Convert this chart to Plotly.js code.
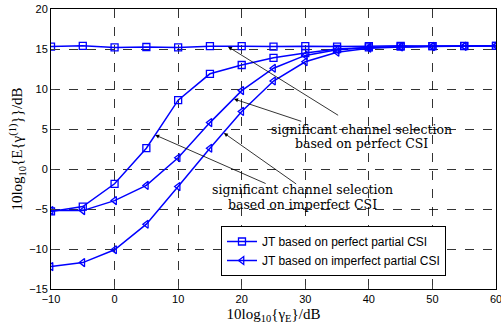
<!DOCTYPE html>
<html><head><meta charset="utf-8">
<script src="https://cdn.plot.ly/plotly-3.0.1.min.js"></script>
<style>body{margin:0;background:#fff}#c{width:501px;height:335px}</style>
</head><body><div id="c"></div>
<script>
const snr = [-10,-5,0,5,10,15,20,25,30,35,40,45,50,55,60];
const perfectTop = [15.3,15.4,15.2,15.25,15.2,15.35,15.35,15.3,15.35,15.3,15.35,15.4,15.35,15.4,15.4];
const perfectRise = [-5.3,-4.7,-1.85,2.6,8.6,11.9,13.0,13.9,14.5,15.0,15.2,15.3,15.35,15.35,15.4];
const imperfectUpper = [-5.2,-5.2,-3.95,-2.05,1.4,5.8,9.8,12.6,14.2,14.9,15.2,15.3,15.35,15.35,15.4];
const imperfectLower = [-12.2,-11.7,-10.1,-6.9,-2.2,2.6,7.2,11.0,13.4,14.6,15.1,15.25,15.3,15.35,15.4];
const legendNames = ['JT based on perfect partial CSI','JT based on imperfect partial CSI'];
const xTicks = [-10,0,10,20,30,40,50,60];
const yTicks = [-15,-10,-5,0,5,10,15,20];

const blue = '#0000ff';
function tr(y, sym, name, show){
  return {x: snr, y: y, type:'scatter', mode:'lines+markers', name: name, showlegend: show,
    line:{color:blue, width:1.5},
    marker:{symbol: sym, size:7, color:blue, line:{color:blue, width:1.3}}};
}
const data = [
  tr(perfectTop,'square-open',legendNames[0],true),
  tr(perfectRise,'square-open',legendNames[0],false),
  tr(imperfectUpper,'triangle-left-open',legendNames[1],true),
  tr(imperfectLower,'triangle-left-open',legendNames[1],false)
];
const serif = 'DejaVu Serif, serif';
const tserif = 'Liberation Serif, Times New Roman, serif';
function arrow(hx,hy,tx,ty){
  return {x:hx,y:hy,ax:tx,ay:ty,axref:'x',ayref:'y',xref:'x',yref:'y',text:'',showarrow:true,
    arrowhead:2,arrowsize:1,arrowwidth:0.8,arrowcolor:'#000'};
}
function label(x,y,t){
  return {x:x,y:y,xref:'x',yref:'y',showarrow:false,text:t,font:{family:serif,size:12.5,color:'#000'}};
}
const layout = {
  width:501, height:335,
  margin:{l:51,r:5,t:9,b:46},
  paper_bgcolor:'#fff', plot_bgcolor:'#fff',
  font:{family:'Liberation Sans, Arial, sans-serif', size:11, color:'#000'},
  xaxis:{range:[-10,60], tickmode:'array', tickvals:xTicks, ticklabeloverflow:'allow', showgrid:true, gridcolor:'#000', gridwidth:0.8, griddash:'dash',
    zeroline:false, showline:true, mirror:true, linecolor:'#000', linewidth:1, ticks:'inside', ticklen:4,
    tickfont:{size:11}, title:{text:'10log<sub>10</sub>{γ<sub>E</sub>}/dB', font:{family:tserif, size:15}, standoff:4}},
  yaxis:{range:[-15,20], tickmode:'array', tickvals:yTicks, ticklabeloverflow:'allow', showgrid:true, gridcolor:'#000', gridwidth:0.8, griddash:'dash',
    zeroline:false, showline:true, mirror:true, linecolor:'#000', linewidth:1, ticks:'inside', ticklen:4,
    tickfont:{size:11}, title:{text:'10log<sub>10</sub>{E{γ<sup>(1)</sup>}}/dB', font:{family:tserif, size:15}, standoff:2}},
  legend:{x:0.382, y:0.225, xanchor:'left', yanchor:'top', bgcolor:'#fff', bordercolor:'#000', borderwidth:1,
    font:{size:12}, tracegroupgap:0, itemwidth:30},
  annotations:[
    arrow(17.84,15.29,35.4,6.6),
    arrow(18.8,8.75,29.6,5.9),
    arrow(6.4,4.25,24.0,-1.9),
    arrow(17.2,4.5,28.8,-2.0),
    label(38.9,5.0,'significant channel selection'),
    label(38.9,3.2,'based on perfect CSI'),
    label(29.6,-2.6,'significant channel selection'),
    label(29.6,-4.4,'based on imperfect CSI')
  ]
};
Plotly.newPlot('c', data, layout, {staticPlot:true, displayModeBar:false});
</script></body></html>
